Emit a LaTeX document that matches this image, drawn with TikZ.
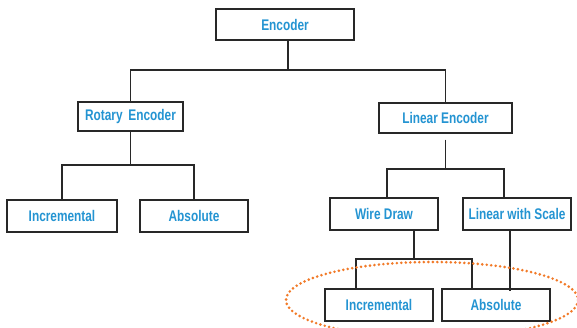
\documentclass[tikz,border=0pt]{standalone}
\usepackage{fontspec}
\setmainfont{Liberation Sans}[FakeStretch=0.77]
\definecolor{labelblue}{RGB}{36,148,210}
\definecolor{linegray}{RGB}{40,40,40}
\definecolor{dotorange}{RGB}{242,122,40}
\begin{document}
\begin{tikzpicture}[x=1pt,y=-1pt,
  box/.style={draw=linegray, line width=1.3pt, fill=white, inner sep=0pt,
    minimum height=31pt, text=labelblue, font=\fontsize{15.4}{17}\selectfont\bfseries},
  link/.style={draw=linegray, line width=1.2pt},
  ring/.style={draw=dotorange, line width=2.9pt, line cap=round, dash pattern=on 0pt off 4.5pt}]
\clip (0,0) rectangle (577,328);
\fill[white] (0,0) rectangle (577,328);

% boxes
\node[box, minimum width=138pt] (enc)  at (285,24.5) {Encoder};
\node[box, minimum width=105pt, minimum height=29pt] (rot) at (130.5,116.5) {Rotary\, Encoder};
\node[box, minimum width=133pt, minimum height=30pt] (lin) at (445.5,118) {Linear Encoder};
\node[box, minimum width=110pt, minimum height=32pt] (inca) at (62,216) {Incremental};
\node[box, minimum width=108pt, minimum height=32pt] (absa) at (194,216) {Absolute};
\node[box, minimum width=108pt, minimum height=32pt] (wire) at (384,214) {Wire Draw};
\node[box, minimum width=108pt, minimum height=32pt] (lws)  at (517,214) {Linear with Scale};
\node[box, minimum width=108pt, minimum height=32pt] (incb) at (379,305) {Incremental};
\node[box, minimum width=108pt, minimum height=32pt] (absb) at (496,305) {Absolute};

% Encoder -> Rotary / Linear
\coordinate (b1) at (288,70);
\draw[link] ([xshift=3pt]enc.south) -- (b1);
\draw[link] (rot.north) |- (b1) -| (lin.north);

% Rotary -> Incremental / Absolute
\coordinate (b2) at (130.5,165);
\draw[link] (rot.south) -- (b2);
\draw[link] (inca.north) |- (b2) -| (absa.north);

% Linear -> Wire Draw / Linear with Scale
\coordinate (b3) at (445.5,169);
\coordinate (b3l) at (387,169);
\coordinate (b3r) at (504,169);
\draw[link] ([yshift=-6pt]lin.south) -- (b3);
\draw[link] (b3l |- wire.north) -- (b3l) -- (b3r) -- (b3r |- lws.north);

% Wire Draw -> Incremental / Absolute
\coordinate (b4) at (414,259);
\coordinate (b4l) at (356,259);
\coordinate (b4r) at (472,259);
\draw[link] (b4 |- wire.south) -- (b4);
\draw[link] (b4l |- incb.north) -- (b4l) -- (b4r) -- (b4r |- absb.north);

% Linear with Scale -> Absolute
\coordinate (b5) at (510,230);
\draw[link] (b5) -- ([yshift=-3pt]b5 |- absb.north);

% highlighted group
\draw[ring] (432,300) ellipse [x radius=146, y radius=38];
\end{tikzpicture}
\end{document}
